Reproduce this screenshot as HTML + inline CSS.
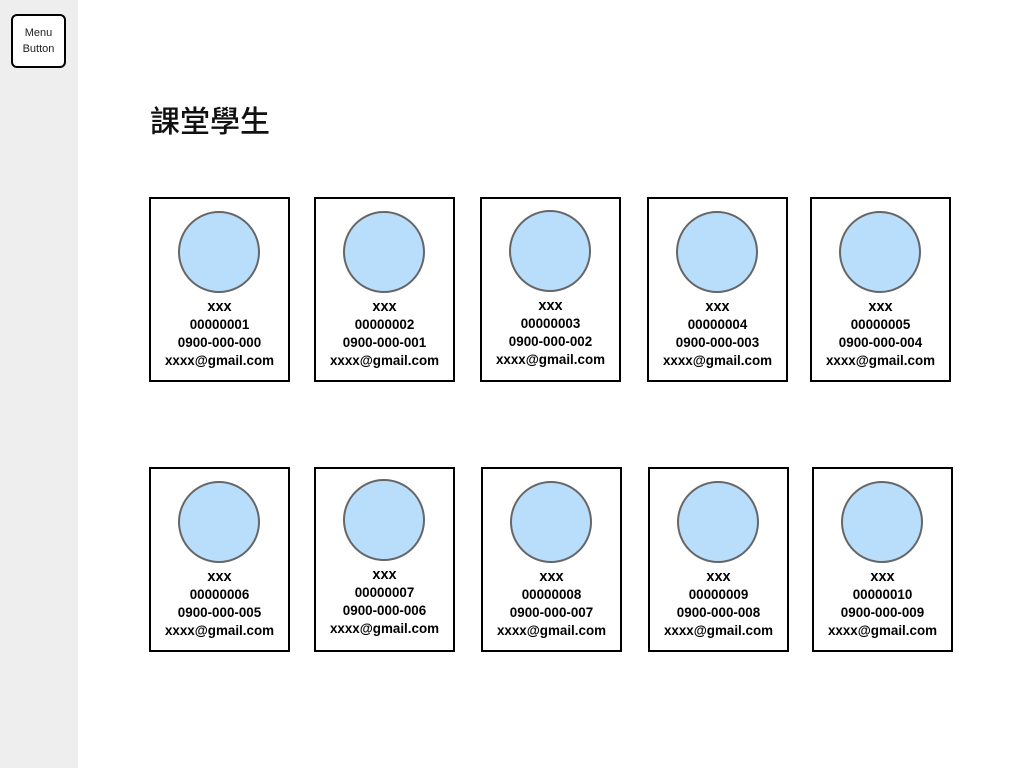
<!DOCTYPE html>
<html><head><meta charset="utf-8"><style>
body{margin:0;width:1024px;height:768px;background:#fff;position:relative;overflow:hidden;font-family:"Liberation Sans",Arial,sans-serif}
.side{position:absolute;left:0;top:0;width:78px;height:768px;background:#eeeeee}
.menu{position:absolute;left:11px;top:14px;width:51px;height:50px;border:2px solid #000;border-radius:6px;background:#fff;font-size:11px;line-height:16px;text-align:center;display:flex;align-items:center;justify-content:center;color:#222}
h1{position:absolute;left:150px;top:97px;margin:0;font:500 30px "Noto Sans CJK TC","Noto Sans CJK SC",sans-serif;color:#111}
.card{position:absolute;width:137px;height:181px;border:2px solid #000;background:#fff}
.c{position:absolute;width:78px;height:78px;border-radius:50%;background:#b9defc;border:2px solid #666;left:27px}
.t{position:absolute;left:0;width:137px;text-align:center;font-weight:bold;font-size:13.4px;line-height:16px;color:#000}
</style></head><body>
<div class="side"></div>
<div class="menu">Menu<br>Button</div>
<h1>課堂學生</h1>
<div id="cards"></div>
<script>
var d=[[149,197,0,1,0],[314,197,0,2,1],[480,197,-1,3,2],[647,197,0,4,3],[810,197,0,5,4],
[149,467,0,6,5],[314,467,-2,7,6],[481,467,0,8,7],[648,467,0,9,8],[812,467,0,10,9]];
var h="";
d.forEach(function(a){var o=a[2];var id=("0000000"+a[3]).slice(-8);
h+='<div class="card" style="left:'+a[0]+'px;top:'+a[1]+'px">'+
'<div class="c" style="top:'+(12+o)+'px"></div>'+
'<div class="t" style="top:'+(100+o)+'px;font-size:14.5px">xxx</div>'+
'<div class="t" style="top:'+(118+o)+'px">'+id+'</div>'+
'<div class="t" style="top:'+(136+o)+'px">0900-000-00'+a[4]+'</div>'+
'<div class="t" style="top:'+(154+o)+'px">xxxx@gmail.com</div></div>';});
document.getElementById("cards").innerHTML=h;
</script>
</body></html>
